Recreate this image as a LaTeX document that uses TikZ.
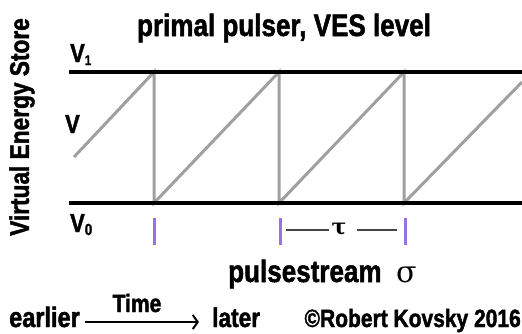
\documentclass[tikz,border=0pt]{standalone}
\usepackage{fontspec}
\setmainfont{Liberation Sans}[FakeStretch=0.84, BoldFeatures={FakeBold=1.6}]
\newfontfamily\greekfont{DejaVu Serif}
\usetikzlibrary{arrows.meta}
\definecolor{sawgray}{RGB}{160,160,160}
\definecolor{tickpurple}{RGB}{150,115,225}
\definecolor{taugray}{RGB}{70,70,70}
\newcommand{\fsz}[1]{\fontsize{#1}{#1}\selectfont}
\begin{document}
\begin{tikzpicture}[x=1pt,y=-1pt,
  lbl/.style={inner sep=0pt, font=\bfseries},
  rail/.style={line width=4pt},
  saw/.style={draw=sawgray, line width=3pt, line join=miter},
  tickmark/.style={draw=tickpurple, line width=3pt},
  tauline/.style={draw=taugray, line width=1.5pt},
  timearrow/.style={line width=2pt, -{Straight Barb[length=5pt,width=14pt,line width=2pt]}}]
\useasboundingbox[fill=white] (0,0) rectangle (522,333);
% sawtooth
\coordinate (s0) at (74,157);
\coordinate (s1) at (154,72);
\coordinate (s2) at (154,203);
\coordinate (s3) at (279,72);
\coordinate (s4) at (279,203);
\coordinate (s5) at (404,72);
\coordinate (s6) at (404,203);
\coordinate (s7) at (522,82);
\draw[saw] (s0) -- (s1) -- (s2) -- (s3) -- (s4) -- (s5) -- (s6) -- (s7);
% rails
\coordinate (t0) at (69,72); \coordinate (t1) at (522,72);
\coordinate (b0) at (69,203); \coordinate (b1) at (522,203);
\draw[rail] (t0) -- (t1);
\draw[rail] (b0) -- (b1);
% ticks
\coordinate (k1a) at (154,218); \coordinate (k1b) at (154,245);
\coordinate (k2a) at (280,218); \coordinate (k2b) at (280,245);
\coordinate (k3a) at (405,218); \coordinate (k3b) at (405,245);
\draw[tickmark] (k1a) -- (k1b);
\draw[tickmark] (k2a) -- (k2b);
\draw[tickmark] (k3a) -- (k3b);
% tau
\node[inner sep=0pt, font=\greekfont\bfseries\fsz{22}] (tau) at (339,229) {τ};
\coordinate (ta) at (286,230); \coordinate (ta2) at (329,230);
\coordinate (tb2) at (357,230); \coordinate (tb) at (397,230);
\draw[tauline] (ta) -- (ta2);
\draw[tauline] (tb2) -- (tb);
% labels
\node[lbl, font=\bfseries\fsz{31}, anchor=base] (title) at (284,36) {primal pulser, VES level};
\node[lbl, font=\bfseries\fsz{26}, anchor=base west] (v1) at (70,62) {V\raisebox{-3pt}{\fsz{14}1}};
\node[lbl, font=\bfseries\fsz{26}, anchor=base west] (v) at (65,133) {V};
\node[lbl, font=\bfseries\fsz{26}, anchor=base west] (v0) at (70,232) {V\raisebox{-3pt}{\fsz{16}0}};
\node[lbl, font=\bfseries\fsz{27}, rotate=90] (ves) at (22,127) {Virtual Energy Store};
\node[lbl, font=\bfseries\fsz{31}, anchor=base west] (ps) at (228,282) {pulsestream\ \ {\greekfont\mdseries\fsz{30}σ}};
\node[lbl, font=\bfseries\fsz{28}, anchor=base west] (earlier) at (9,327) {earlier};
\node[lbl, font=\bfseries\fsz{27}, anchor=base west] (later) at (212,327) {later};
\node[lbl, font=\bfseries\fsz{25}, anchor=base] (time) at (137,312) {Time};
\node[lbl, font=\bfseries\fsz{25}, anchor=base east] (copy) at (521,327) {©Robert Kovsky 2016};
\coordinate (arrA) at (85,322); \coordinate (arrB) at (199,322);
\draw[timearrow] (arrA) -- (arrB);
\end{tikzpicture}
\end{document}
